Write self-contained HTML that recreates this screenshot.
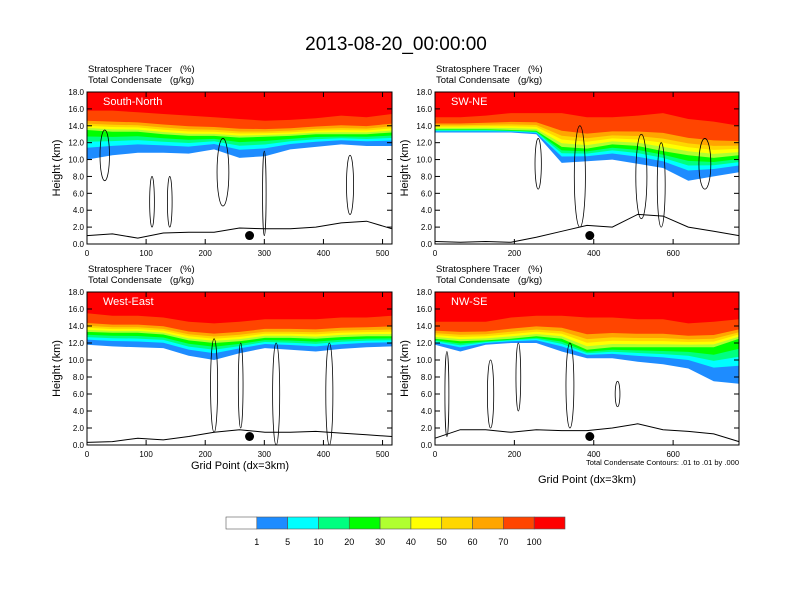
<!DOCTYPE html>
<html><head><meta charset="utf-8"><style>
body{margin:0;background:#fff}
svg{display:block;font-family:"Liberation Sans",sans-serif}
text{white-space:pre}
</style></head><body>
<svg id="chart" width="792" height="612" viewBox="0 0 792 612">
<text x="396" y="50" font-size="19" text-anchor="middle">2013-08-20_00:00:00</text>
</svg>
<script>
// ---- data ----
const levels = [1,5,10,20,30,40,50,60,70,100];
const colors = ["#ffffff","#1e8cff","#00ffff","#00ff80","#00ff00","#b0ff30","#ffff00","#ffd700","#ffa500","#ff4500","#ff0000"];
const panelNames = ["South-North","SW-NE","West-East","NW-SE"];
const xMaxes = [516,766,516,766];
const xTickVals = [[0,100,200,300,400,500],[0,200,400,600],[0,100,200,300,400,500],[0,200,400,600]];
const yTickVals = [0,2,4,6,8,10,12,14,16,18];
const lowEdge = [
 [10.0,10.5,10.8,10.8,10.7,11.2,10.2,10.4,11.2,11.5,11.8,11.6,11.6],
 [13.2,13.2,13.2,13.2,13.0,9.6,9.8,10.0,9.5,9.0,7.5,8.0,8.5],
 [11.8,11.6,11.5,11.4,10.5,10.0,10.8,11.4,11.2,11.0,11.3,11.5,11.6],
 [11.8,11.0,11.8,12.0,12.0,11.0,10.2,10.2,9.8,9.5,9.0,7.5,7.2]];
const midEdge = [
 [13.5,13.3,13.3,13.0,12.8,12.8,12.6,12.7,12.8,13.0,13.0,13.0,13.2],
 [13.6,13.6,13.6,13.5,13.4,11.5,11.3,11.8,11.6,11.0,10.5,10.2,10.5],
 [13.3,13.2,13.2,13.0,12.3,12.0,12.2,12.6,12.6,12.5,12.7,12.8,12.8],
 [12.5,12.2,12.3,12.5,12.8,12.5,11.2,11.5,11.5,11.5,11.5,11.5,12.5]];
const redEdge = [
 [15.8,15.8,15.6,15.4,15.2,15.0,14.8,14.6,14.7,14.9,15.2,15.0,15.4],
 [15.0,15.0,15.2,15.5,15.5,15.5,15.0,15.0,15.2,15.5,14.8,14.5,14.0],
 [15.5,15.2,15.2,15.0,14.5,14.3,14.5,14.8,14.8,14.8,15.0,15.0,15.2],
 [14.5,14.5,14.5,15.0,15.2,15.2,15.0,15.0,14.8,14.8,14.3,14.5,14.8]];
const terrain = [
 [1.0,1.2,0.7,1.3,1.4,1.4,1.9,1.8,1.8,2.0,2.5,2.7,1.8],
 [0.3,0.2,0.3,0.2,0.8,1.5,2.2,2.0,3.5,3.3,2.0,1.5,1.0],
 [0.3,0.4,0.8,0.6,1.0,1.5,1.8,1.5,1.5,1.6,1.4,1.2,1.0],
 [0.8,1.8,1.8,1.5,1.8,1.7,1.7,2.0,2.5,1.8,1.6,1.3,0.4]];
const dotX = [275,390,275,390];
// contour blobs: [x, centerKm, halfHeightKm, halfWidthGrid]
const blobs = [
 [[30,10.5,3,8],[110,5,3,4],[140,5,3,4],[230,8.5,4,10],[300,6,5,3],[445,7,3.5,6]],
 [[260,9.5,3,8],[365,8,6,14],[520,8,5,14],[570,7,5,10],[680,9.5,3,15]],
 [[215,7,5.5,6],[260,7,5,4],[320,6,6,6],[410,6,6,6]],
 [[30,6,5,5],[140,6,4,8],[210,8,4,6],[340,7,5,10],[460,6,1.5,6]]];
const labelFrac = [0.0,0.4,0.6,0.78,1.0];
const upperFrac = [0.11,0.22,0.33,0.48];

const svg = document.getElementById('chart');
const NS = "http://www.w3.org/2000/svg";
function mk(tag, attrs, parent){const e=document.createElementNS(NS,tag);for(const k in attrs)e.setAttribute(k,attrs[k]);(parent||svg).appendChild(e);return e;}

const boxes = [{x0:87,x1:392,y0:92,y1:244},{x0:435,x1:739,y0:92,y1:244},{x0:87,x1:392,y0:292,y1:445},{x0:435,x1:739,y0:292,y1:445}];

boxes.forEach((b,p)=>{
  const g = mk('g',{});
  
  
  const xs = v => b.x0 + v/xMaxes[p]*(b.x1-b.x0);
  const ys = v => b.y1 - v/18*(b.y1-b.y0);
  const n = lowEdge[p].length;
  const sx = i => i/(n-1)*xMaxes[p];
  const bounds = [];
  for(let L=0;L<10;L++){
    const arr=[];
    for(let i=0;i<n;i++){
      const lo=lowEdge[p][i], mi=midEdge[p][i], rd=redEdge[p][i];
      let h;
      if(L===0) h=lo;
      else if(L<=4) h=lo+(mi-lo)*labelFrac[L];
      else if(L<=8) h=mi+(rd-mi)*upperFrac[L-5];
      else h=rd;
      arr.push(h);
    }
    bounds.push(arr);
  }
  mk('rect',{x:b.x0,y:b.y0,width:b.x1-b.x0,height:b.y1-b.y0,fill:'#fff'},g);
  bounds.forEach((arr,L)=>{
    let d='M'+xs(0)+','+ys(18);
    arr.forEach((h,i)=>{d+=' L'+xs(sx(i)).toFixed(1)+','+ys(h).toFixed(1);});
    d+=' L'+xs(xMaxes[p])+','+ys(18)+'Z';
    const e=mk('path',{d:d,fill:colors[L+1]},g);
    
    
  });
  blobs[p].forEach(c=>{
    const e=mk('ellipse',{cx:xs(c[0]),cy:ys(c[1]),rx:Math.abs(xs(c[3])-xs(0)),ry:Math.abs(ys(c[2])-ys(0)),fill:'none',stroke:'#000','stroke-width':0.8},g);
    
    
  });
  let td='';
  terrain[p].forEach((h,i)=>{td+=(i?' L':'M')+xs(sx(i)).toFixed(1)+','+ys(h).toFixed(1);});
  const t=mk('path',{d:td,fill:'none',stroke:'#000','stroke-width':1},g);
  
  
  const dot=mk('circle',{cx:xs(dotX[p]),cy:ys(1.0),r:4.5,fill:'#000'},g);
  
  
  const fr=mk('rect',{x:b.x0,y:b.y0,width:b.x1-b.x0,height:b.y1-b.y0,fill:'none',stroke:'#000','stroke-width':1},g);
  
  
  yTickVals.forEach(v=>{
    const y=ys(v);
    mk('line',{x1:b.x0,x2:b.x0+5,y1:y,y2:y,stroke:'#000'},g);
    mk('line',{x1:b.x1,x2:b.x1-5,y1:y,y2:y,stroke:'#000'},g);
    const tl=mk('text',{x:b.x0-3,y:y+3,'font-size':8,'text-anchor':'end'},g);
    tl.textContent=v.toFixed(1);
    
    
  });
  xTickVals[p].forEach(v=>{
    const x=xs(v);
    mk('line',{x1:x,x2:x,y1:b.y1,y2:b.y1-5,stroke:'#000'},g);
    mk('line',{x1:x,x2:x,y1:b.y0,y2:b.y0+5,stroke:'#000'},g);
    const tl=mk('text',{x:x,y:b.y1+12,'font-size':8,'text-anchor':'middle'},g);
    tl.textContent=v;
    
    
  });
  const nm=mk('text',{x:b.x0+16,y:b.y0+13,'font-size':11,fill:'#fff'},g);
  nm.textContent=panelNames[p];
  
  
  const s1=mk('text',{x:b.x0+1,y:b.y0-20,'font-size':9.5},g);
  s1.textContent='Stratosphere Tracer   (%)';
  
  
  const s2=mk('text',{x:b.x0+1,y:b.y0-9,'font-size':9.5},g);
  s2.textContent='Total Condensate   (g/kg)';
  
  
  const yl=mk('text',{x:0,y:0,'font-size':11,'text-anchor':'middle',transform:'translate('+(b.x0-27)+','+((b.y0+b.y1)/2)+') rotate(-90)'},g);
  yl.textContent='Height (km)';
  
  
});

const xt1=mk('text',{x:240,y:469,'font-size':11,'text-anchor':'middle'});
xt1.textContent='Grid Point (dx=3km)';


const xt2=mk('text',{x:587,y:483,'font-size':11,'text-anchor':'middle'});
xt2.textContent='Grid Point (dx=3km)';


const fn=mk('text',{x:739,y:465,'font-size':7.5,'text-anchor':'end'});
fn.textContent='Total Condensate Contours: .01 to .01 by .000';



const cb=mk('g',{});


const cbX=226, cbW=339, cbY=517, cbH=12, bw=cbW/colors.length;
colors.forEach((c,i)=>{
  const r=mk('rect',{x:cbX+i*bw,y:cbY,width:bw,height:cbH,fill:c,stroke:'#555','stroke-width':0.6},cb);
  
  
});
levels.forEach((v,i)=>{
  const t=mk('text',{x:cbX+(i+1)*bw,y:cbY+28,'font-size':9,'text-anchor':'middle'},cb);
  t.textContent=v;
  
  
});
</script>
</body></html>
